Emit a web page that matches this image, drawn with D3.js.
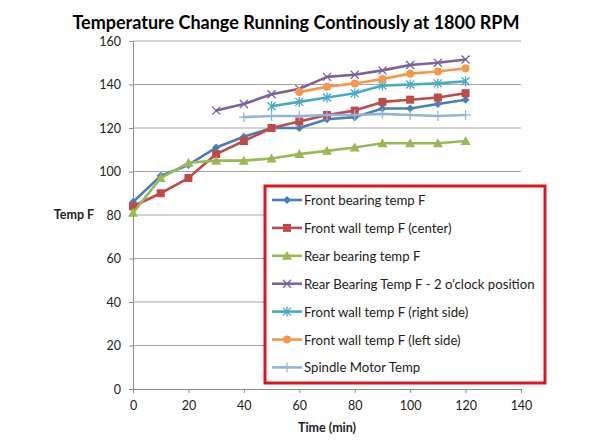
<!DOCTYPE html>
<html>
<head>
<meta charset="utf-8">
<script src="https://cdn.jsdelivr.net/npm/d3@7"></script>
<style>
  body { margin: 0; background: #fff; }
  text { font-family: Lato, "Open Sans", sans-serif; fill: #222; }
</style>
</head>
<body>
<div id="chart"></div>
<script>
// time in minutes
const times = [0, 10, 20, 30, 40, 50, 60, 70, 80, 90, 100, 110, 120];

const frontBearing = [86, 98, 103, 111, 116, 120, 120, 124, 125, 129, 129, 131, 133];
const frontWallCenter = [84, 90, 97, 108, 114, 120, 123, 126, 128, 132, 133, 134, 136];
const rearBearing = [81, 97, 104, 105, 105, 106, 108, 109.5, 111, 113, 113, 113, 114];
const rearBearing2oclock = [null, null, null, 128, 131, 135.5, 138, 143.5, 144.5, 146.5, 149, 150, 151.5];
const frontWallRight = [null, null, null, null, null, 130, 132, 134, 136, 139.5, 140, 140.5, 141.5];
const frontWallLeft = [null, null, null, null, null, null, 136.5, 139, 140.5, 142.5, 145, 146, 147.5];
const spindleMotor = [null, null, null, null, 125, 125.5, 125.5, 126, 126, 126.5, 126, 125.5, 126];

const seriesNames = [
  "Front bearing  temp F",
  "Front wall temp F (center)",
  "Rear bearing temp F",
  "Rear Bearing Temp F - 2 o'clock position",
  "Front wall temp F (right side)",
  "Front wall temp F (left side)",
  "Spindle Motor Temp"
];
const seriesValues = [frontBearing, frontWallCenter, rearBearing, rearBearing2oclock,
                      frontWallRight, frontWallLeft, spindleMotor];
const seriesColors = ["#4a7ebb", "#be4b48", "#98b954", "#7d60a0", "#46aac5", "#f79646", "#95b3d7"];
const seriesMarkers = ["diamond", "square", "triangle", "x", "star", "circle", "plus"];

const xTicks = [0, 20, 40, 60, 80, 100, 120, 140];
const yTicks = [0, 20, 40, 60, 80, 100, 120, 140, 160];

const W = 592, H = 444;
const margin = {top: 41, right: 71, bottom: 55, left: 133};

const svg = d3.select("#chart").append("svg")
    .attr("width", W)
    .attr("height", H);

const x = d3.scaleLinear().domain([0, 140]).range([margin.left, W - margin.right]);
const y = d3.scaleLinear().domain([0, 160]).range([H - margin.bottom, margin.top]);

// gridlines
svg.append("g")
    .selectAll("line")
    .data(yTicks.filter(d => d > 0))
    .enter().append("line")
    .attr("x1", x(0)).attr("x2", x(140))
    .attr("y1", d => y(d)).attr("y2", d => y(d))
    .attr("stroke", "#a6a6a6")
    .attr("stroke-width", 1);

// axes
const yAxis = svg.append("g")
    .attr("transform", `translate(${x(0)},0)`)
    .call(d3.axisLeft(y).tickValues(yTicks).tickSize(4).tickPadding(8).tickFormat(d3.format("d")));
const xAxis = svg.append("g")
    .attr("transform", `translate(0,${y(0)})`)
    .call(d3.axisBottom(x).tickValues(xTicks).tickSize(4).tickPadding(8).tickFormat(d3.format("d")));

[xAxis, yAxis].forEach(a => {
  a.select(".domain").attr("stroke", "#8c8c8c");
  a.selectAll(".tick line").attr("stroke", "#8c8c8c");
  a.selectAll(".tick text").style("font-size", "12.5px").style("font-family", "Lato, sans-serif").attr("fill", "#222");
});

// markers
function drawMarker(g, type, color) {
  const s = 4;
  if (type === "diamond") {
    g.append("path").attr("d", `M0,${-s}L${s},0L0,${s}L${-s},0Z`).attr("fill", color);
  } else if (type === "square") {
    g.append("rect").attr("x", -s).attr("y", -s).attr("width", 2 * s).attr("height", 2 * s).attr("fill", color);
  } else if (type === "triangle") {
    g.append("path").attr("d", `M0,${-s - 1}L${s + 1},${s}L${-s - 1},${s}Z`).attr("fill", color);
  } else if (type === "circle") {
    g.append("circle").attr("r", s).attr("fill", color);
  } else if (type === "x") {
    g.append("path").attr("d", `M${-s},${-s}L${s},${s}M${-s},${s}L${s},${-s}`)
      .attr("stroke", color).attr("stroke-width", 1.3).attr("fill", "none");
  } else if (type === "star") {
    g.append("path").attr("d", `M${-s},${-s}L${s},${s}M${-s},${s}L${s},${-s}M0,${-s - 1}L0,${s + 1}`)
      .attr("stroke", color).attr("stroke-width", 1.3).attr("fill", "none");
  } else if (type === "plus") {
    g.append("path").attr("d", `M0,${-s - 1}L0,${s + 1}M${-s - 1},0L${s + 1},0`)
      .attr("stroke", color).attr("stroke-width", 1.2).attr("fill", "none");
  }
}

const line = d3.line()
    .defined(d => d.v !== null)
    .x(d => x(d.t))
    .y(d => y(d.v));

seriesValues.forEach((vals, i) => {
  const pts = times.map((t, j) => ({t: t, v: vals[j]}));
  const g = svg.append("g");
  g.append("path")
      .datum(pts)
      .attr("d", line)
      .attr("fill", "none")
      .attr("stroke", seriesColors[i])
      .attr("stroke-width", 2.6)
      .attr("stroke-linejoin", "round");
  pts.filter(d => d.v !== null).forEach(d => {
    const m = g.append("g").attr("transform", `translate(${x(d.t)},${y(d.v)})`);
    drawMarker(m, seriesMarkers[i], seriesColors[i]);
  });
});

// axis titles
svg.append("text")
    .attr("x", 74).attr("y", 216)
    .attr("text-anchor", "middle")
    .attr("dominant-baseline", "middle")
    .style("font-size", "12.5px").style("font-weight", "bold")
    .text("Temp F");

svg.append("text")
    .attr("x", 327).attr("y", 432)
    .attr("text-anchor", "middle")
    .style("font-size", "12.5px").style("font-weight", "bold")
    .text("Time (min)");

// title - shrink font until it fits the width used in the original
const title = svg.append("text")
    .attr("x", 296).attr("y", 29)
    .attr("text-anchor", "middle")
    .style("font-size", "22px").style("font-weight", "bold")
    .style("fill", "#000")
    .text("Temperature Change Running Continously at 1800 RPM");
let fs = 22;
while (title.node().getComputedTextLength() > 453 && fs > 12) {
  fs -= 0.25;
  title.style("font-size", fs + "px");
}

// legend
const legend = svg.append("g").attr("transform", "translate(265,186)");
legend.append("rect")
    .attr("width", 280).attr("height", 197)
    .attr("fill", "#fff")
    .attr("stroke", "#e0141e")
    .attr("stroke-width", 3);

seriesNames.forEach((name, i) => {
  const ly = 14 + i * 27.9;
  const row = legend.append("g").attr("transform", `translate(0,${ly})`);
  row.append("line")
      .attr("x1", 7).attr("x2", 37)
      .attr("stroke", seriesColors[i])
      .attr("stroke-width", 2.6);
  const m = row.append("g").attr("transform", "translate(22,0)");
  drawMarker(m, seriesMarkers[i], seriesColors[i]);
  row.append("text")
      .attr("x", 39).attr("y", 0)
      .attr("dominant-baseline", "central")
      .style("font-size", "13.2px")
      .text(name);
});
</script>
</body>
</html>
